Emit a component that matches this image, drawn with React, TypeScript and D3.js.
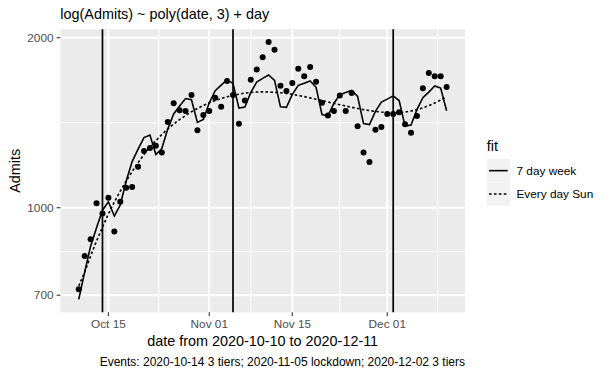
import React from "react";
import * as d3 from "d3";

const startDate = "2020-10-10";
const admits = [717, 821, 879, 1018, 977, 1042, 908, 1025, 1085, 1088, 1182, 1260, 1276, 1288, 1253, 1418, 1531, 1488, 1483, 1583, 1371, 1459, 1483, 1566, 1510, 1676, 1583, 1408, 1549, 1685, 1757, 1847, 1965, 1905, 1644, 1609, 1663, 1762, 1709, 1775, 1671, 1534, 1457, 1483, 1581, 1483, 1596, 1394, 1253, 1205, 1374, 1390, 1465, 1465, 1476, 1405, 1358, 1453, 1627, 1732, 1709, 1709, 1636];
const fitWeek = [688, 769, 855, 922, 990, 1024, 967, 1011, 1115, 1207, 1270, 1331, 1345, 1242, 1273, 1378, 1466, 1514, 1561, 1553, 1416, 1433, 1534, 1612, 1649, 1685, 1660, 1501, 1507, 1600, 1670, 1695, 1718, 1681, 1509, 1506, 1588, 1647, 1662, 1677, 1634, 1462, 1454, 1530, 1585, 1600, 1614, 1574, 1409, 1404, 1481, 1538, 1557, 1578, 1548, 1395, 1401, 1492, 1566, 1602, 1643, 1629, 1485];
const fitSun = [727, 769, 821, 873, 924, 975, 1024, 1070, 1115, 1159, 1202, 1242, 1281, 1315, 1348, 1378, 1407, 1433, 1456, 1479, 1499, 1517, 1534, 1548, 1561, 1572, 1581, 1589, 1596, 1600, 1603, 1604, 1603, 1601, 1598, 1594, 1588, 1581, 1573, 1565, 1556, 1548, 1539, 1530, 1522, 1514, 1506, 1499, 1492, 1486, 1481, 1477, 1474, 1472, 1474, 1477, 1483, 1492, 1503, 1516, 1533, 1551, 1572];
const eventDates = ["2020-10-14", "2020-11-05", "2020-12-02"];
const xTickDates = ["2020-10-15", "2020-11-01", "2020-11-15", "2020-12-01"];
const xMinorDates = ["2020-10-23T12:00", "2020-11-08", "2020-11-23", "2020-12-09T12:00"];
const yTicks = [700, 1000, 2000];
const legendLabels = ["7 day week", "Every day Sun"];

const FONT = "'Liberation Sans', Arial, Helvetica, sans-serif";
const X0 = 60.35, X1 = 465, Y0 = 29.2, Y1 = 312.3;

const parse = (s: string) => new Date(s.length > 10 ? s + ":00Z" : s + "T00:00:00Z");

export default function App() {
  const start = parse(startDate);
  const dates = admits.map((_, i) => d3.utcDay.offset(start, i));
  const first = dates[0], last = dates[dates.length - 1];
  const span = +last - +first;
  const x = d3.scaleUtc()
    .domain([new Date(+first - span * 0.05), new Date(+last + span * 0.05)])
    .range([X0, X1]);

  const all = [...admits, ...fitWeek, ...fitSun];
  const lnMin = Math.log(d3.min(all) as number), lnMax = Math.log(d3.max(all) as number);
  const R = lnMax - lnMin;
  const y = d3.scaleLog()
    .domain([Math.exp(lnMin - 0.05 * R), Math.exp(lnMax + 0.05 * R)])
    .range([Y1, Y0]);

  const yMinor: number[] = [];
  for (let i = 0; i < yTicks.length - 1; i++) yMinor.push(Math.sqrt(yTicks[i] * yTicks[i + 1]));

  const line = d3.line<number>().x((_, i) => x(dates[i])).y((v) => y(v));
  const fmt = d3.utcFormat("%b %d");

  const legX = 486.7, legY = 159, key = 23.3;

  return (
    <svg width={611} height={377} style={{ position: "absolute", left: 0, top: 0, background: "#fff" }} fontFamily={FONT}>
      <rect x={0} y={0} width={611} height={377} fill="#fff" />
      <rect x={X0} y={Y0} width={X1 - X0} height={Y1 - Y0} fill="#EBEBEB" />
      {yMinor.map((v, i) => (
        <line key={"ym" + i} x1={X0} x2={X1} y1={y(v)} y2={y(v)} stroke="#fff" strokeWidth={0.95} />
      ))}
      {xMinorDates.map((d, i) => (
        <line key={"xm" + i} x1={x(parse(d))} x2={x(parse(d))} y1={Y0} y2={Y1} stroke="#fff" strokeWidth={0.95} />
      ))}
      {yTicks.map((v) => (
        <line key={"yg" + v} x1={X0} x2={X1} y1={y(v)} y2={y(v)} stroke="#fff" strokeWidth={1.9} />
      ))}
      {xTickDates.map((d) => (
        <line key={"xg" + d} x1={x(parse(d))} x2={x(parse(d))} y1={Y0} y2={Y1} stroke="#fff" strokeWidth={1.9} />
      ))}
      {admits.map((v, i) => (
        <circle key={"p" + i} cx={x(dates[i])} cy={y(v)} r={3} fill="#000" />
      ))}
      {eventDates.map((d) => (
        <line key={"ev" + d} x1={x(parse(d))} x2={x(parse(d))} y1={Y0} y2={Y1} stroke="#000" strokeWidth={1.7} />
      ))}
      <path d={line(fitWeek) || ""} fill="none" stroke="#000" strokeWidth={1.6} />
      <path d={line(fitSun) || ""} fill="none" stroke="#000" strokeWidth={1.6} strokeDasharray="2.6,2.3" />

      {yTicks.map((v) => (
        <g key={"yt" + v}>
          <line x1={X0 - 3.7} x2={X0} y1={y(v)} y2={y(v)} stroke="#333" strokeWidth={1.1} />
          <text x={X0 - 6.8} y={y(v)} dy="0.35em" textAnchor="end" fontSize={11.8} fill="#4D4D4D">{v}</text>
        </g>
      ))}
      {xTickDates.map((d) => (
        <g key={"xt" + d}>
          <line x1={x(parse(d))} x2={x(parse(d))} y1={Y1} y2={Y1 + 3.7} stroke="#333" strokeWidth={1.1} />
          <text x={x(parse(d))} y={Y1 + 16} textAnchor="middle" fontSize={11.8} fill="#4D4D4D">{fmt(parse(d))}</text>
        </g>
      ))}

      <text x={X0} y={18.5} fontSize={14.4} fill="#000">log(Admits) ~ poly(date, 3) + day</text>
      <text x={(X0 + X1) / 2} y={346} textAnchor="middle" fontSize={14.4} fill="#000">date from 2020-10-10 to 2020-12-11</text>
      <text transform={`translate(19.5,${(Y0 + Y1) / 2}) rotate(-90)`} textAnchor="middle" fontSize={14.4} fill="#000">Admits</text>
      <text x={X1} y={366} textAnchor="end" fontSize={12} fill="#000">Events: 2020-10-14 3 tiers; 2020-11-05 lockdown; 2020-12-02 3 tiers</text>

      <text x={legX} y={150.5} fontSize={14.4} fill="#000">fit</text>
      {legendLabels.map((lab, i) => {
        const cy = legY + key * i + key / 2;
        return (
          <g key={"lg" + i}>
            <rect x={legX} y={legY + key * i} width={key} height={key} fill="#F2F2F2" />
            <line x1={legX + key * 0.1} x2={legX + key * 0.9} y1={cy} y2={cy} stroke="#000" strokeWidth={1.6}
              strokeDasharray={i === 1 ? "2.6,2.3" : undefined} />
            <text x={legX + key + 6.5} y={cy} dy="0.35em" fontSize={11.8} fill="#000">{lab}</text>
          </g>
        );
      })}
    </svg>
  );
}
